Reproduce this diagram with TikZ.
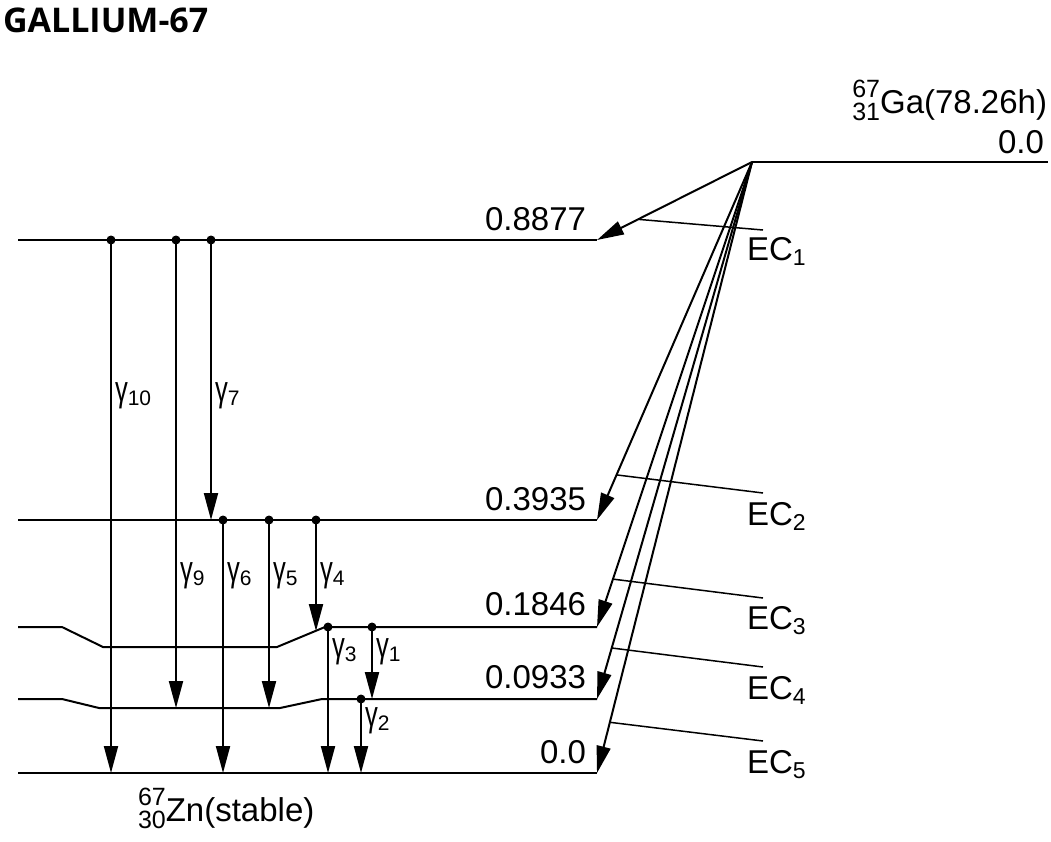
\documentclass[tikz,border=0pt]{standalone}
\usepackage{fontspec}
\setmainfont{Liberation Sans}
\newfontfamily\titlefont{Open Sans}
\usetikzlibrary{arrows.meta}

\newcommand{\lvfont}{\fontsize{33}{33}\selectfont}
\newcommand{\lowsub}[1]{\raisebox{-5pt}{\fontsize{23}{23}\selectfont #1}}
\newcommand{\gam}[1]{\scalebox{0.8}[1.12]{\fontsize{32}{32}\selectfont γ}\raisebox{-4pt}{\fontsize{21}{21}\selectfont #1}}
\newcommand{\nuclide}[3]{\makebox[0pt][l]{\raisebox{16pt}{\fontsize{25}{25}\selectfont #1}}\raisebox{-7pt}{\fontsize{25}{25}\selectfont #2}#3}

\begin{document}
\begin{tikzpicture}[
  x=1pt, y=-1pt,
  line width=2pt,
  every node/.style={font=\lvfont, inner sep=0pt},
  garr/.style={-{Triangle[length=27pt,width=14pt]}},
  ecarr/.style={-{Triangle[length=27pt,width=14pt]}},
  ecline/.style={line width=1.5pt},
  dot/.style={circle, fill, inner sep=0pt, minimum size=9pt},
  glab/.style={anchor=west, inner sep=3pt}
]
  \useasboundingbox (0,0) rectangle (1051,841);

  \node[anchor=base west, font=\titlefont\fontsize{34}{34}\selectfont\bfseries] (title) at (2,32) {GALLIUM-67};

  % parent level
  \coordinate (ga) at (752,162);
  \coordinate (gaend) at (1048,162);
  \draw (ga) -- (gaend);
  \node[anchor=base east] (galab) at (1048,113) {\nuclide{67}{31}{Ga(78.26h)}};
  \node[anchor=base east] (gaen) at (1045,153) {0.0};

  % daughter levels
  \coordinate (l1a) at (18,240);  \coordinate (l1) at (597,240);
  \coordinate (l2a) at (18,520);  \coordinate (l2) at (597,520);
  \coordinate (l3a) at (18,627);  \coordinate (l3) at (597,627);
  \coordinate (l4a) at (18,699);  \coordinate (l4) at (597,699);
  \coordinate (l5a) at (18,773);  \coordinate (l5) at (597,773);
  \draw (l1a) -- (l1);
  \draw (l2a) -- (l2);
  \draw (l3a) -- (62,627) -- (103,647) -- (277,647) -- (325,627) -- (l3);
  \draw (l4a) -- (62,699) -- (99,708) -- (280,708) -- (322,699) -- (l4);
  \draw (l5a) -- (l5);

  \node[anchor=base east] (e1) at (587,230) {0.8877};
  \node[anchor=base east] (e2) at (587,510) {0.3935};
  \node[anchor=base east] (e3) at (587,615) {0.1846};
  \node[anchor=base east] (e4) at (587,688) {0.0933};
  \node[anchor=base east] (e5) at (587,763) {0.0};
  \node[anchor=base west] (zn) at (137,821) {\nuclide{67}{30}{Zn(stable)}};

  % electron capture branches
  \draw[ecarr] (ga) -- coordinate[pos=0.735] (c1) (l1);
  \draw[ecarr] (ga) -- coordinate[pos=0.874] (c2) (l2);
  \draw[ecarr] (ga) -- coordinate[pos=0.897] (c3) (l3);
  \draw[ecarr] (ga) -- coordinate[pos=0.905] (c4) (l4);
  \draw[ecarr] (ga) -- coordinate[pos=0.917] (c5) (l5);
  \coordinate (k1) at (763,230);
  \coordinate (k2) at (763,493);
  \coordinate (k3) at (763,598);
  \coordinate (k4) at (763,667);
  \coordinate (k5) at (763,741);
  \draw[ecline] (c1) -- (k1);
  \draw[ecline] (c2) -- (k2);
  \draw[ecline] (c3) -- (k3);
  \draw[ecline] (c4) -- (k4);
  \draw[ecline] (c5) -- (k5);
  \node[anchor=base west] (ec1) at (746,260) {EC\lowsub{1}};
  \node[anchor=base west] (ec2) at (746,525) {EC\lowsub{2}};
  \node[anchor=base west] (ec3) at (746,629) {EC\lowsub{3}};
  \node[anchor=base west] (ec4) at (746,699) {EC\lowsub{4}};
  \node[anchor=base west] (ec5) at (746,773) {EC\lowsub{5}};

  % gamma transitions
  \node[dot] (s10) at (111,240) {};
  \node[dot] (s9) at (176,240) {};
  \node[dot] (s7) at (211,240) {};
  \node[dot] (s6) at (223,520) {};
  \node[dot] (s5) at (269,520) {};
  \node[dot] (s4) at (316,520) {};
  \node[dot] (s3) at (328,627) {};
  \node[dot] (s1) at (372,627) {};
  \node[dot] (s2) at (361,699) {};
  \coordinate (t10) at (111,773);
  \coordinate (t9) at (176,708);
  \coordinate (t7) at (211,520);
  \coordinate (t6) at (223,773);
  \coordinate (t5) at (269,708);
  \coordinate (t4) at (316,631);
  \coordinate (t3) at (328,773);
  \coordinate (t1) at (372,699);
  \coordinate (t2) at (361,773);
  \draw[garr] (s10.center) -- (t10);
  \draw[garr] (s9.center) -- (t9);
  \draw[garr] (s7.center) -- (t7);
  \draw[garr] (s6.center) -- (t6);
  \draw[garr] (s5.center) -- (t5);
  \draw[garr] (s4.center) -- (t4);
  \draw[garr] (s3.center) -- (t3);
  \draw[garr] (s1.center) -- (t1);
  \draw[garr] (s2.center) -- (t2);

  \node[glab] (g10) at (111,396) {\gam{10}};
  \node[glab] (g7) at (211,396) {\gam{7}};
  \node[glab] (g9) at (176,576) {\gam{9}};
  \node[glab] (g6) at (223,576) {\gam{6}};
  \node[glab] (g5) at (269,576) {\gam{5}};
  \node[glab] (g4) at (316,576) {\gam{4}};
  \node[glab] (g3) at (328,652) {\gam{3}};
  \node[glab] (g1) at (372,652) {\gam{1}};
  \node[glab] (g2) at (361,721) {\gam{2}};
\end{tikzpicture}
\end{document}
